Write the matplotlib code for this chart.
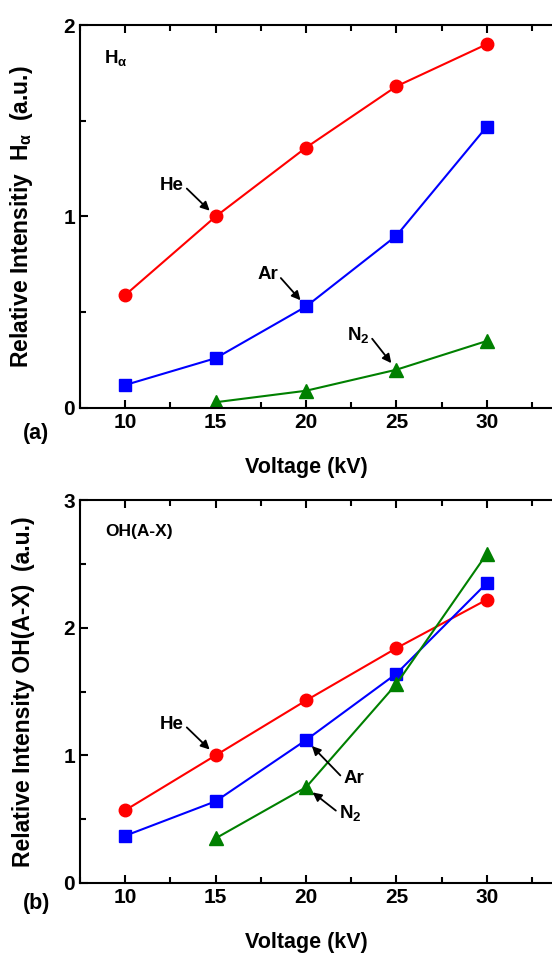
import matplotlib
matplotlib.use('Agg')
from matplotlib import pyplot as plt
from matplotlib.ticker import MultipleLocator

plt.rcParams['font.family'] = ['Liberation Sans', 'DejaVu Sans']
plt.rcParams['font.weight'] = 'bold'
plt.rcParams['mathtext.fontset'] = 'custom'
plt.rcParams['mathtext.bf'] = 'Liberation Sans:bold'
plt.rcParams['mathtext.rm'] = 'Liberation Sans:bold'
plt.rcParams['mathtext.it'] = 'Liberation Sans:bold'

voltage = [10, 15, 20, 25, 30]
voltage_n2 = [15, 20, 25, 30]

# (a) H alpha
ha_he = [0.59, 1.00, 1.36, 1.68, 1.90]
ha_ar = [0.12, 0.26, 0.53, 0.90, 1.47]
ha_n2 = [0.03, 0.09, 0.20, 0.35]

# (b) OH(A-X)
oh_he = [0.57, 1.00, 1.43, 1.84, 2.22]
oh_ar = [0.37, 0.64, 1.12, 1.64, 2.35]
oh_n2 = [0.35, 0.75, 1.56, 2.58]

fig = plt.figure(figsize=(5.52, 9.55), dpi=100)
ax1 = fig.add_axes([0.145, 0.5728, 0.855, 0.401])
ax2 = fig.add_axes([0.145, 0.0754, 0.855, 0.401])

arrow = dict(arrowstyle='-|>', color='black', lw=1.3, mutation_scale=13, shrinkA=0, shrinkB=6)


def draw_panel(ax, he, ar, n2, ymax):
    ax.plot(voltage, he, color='#ff0000', marker='o', ms=9, lw=1.5)
    ax.plot(voltage, ar, color='#0000ff', marker='s', ms=8.5, lw=1.5)
    ax.plot(voltage_n2, n2, color='#008000', marker='^', ms=9.5, lw=1.5)
    ax.set_xlim(7.5, 33.6)
    ax.set_ylim(0, ymax)
    ax.xaxis.set_major_locator(MultipleLocator(5))
    ax.xaxis.set_minor_locator(MultipleLocator(2.5))
    ax.yaxis.set_major_locator(MultipleLocator(1))
    ax.yaxis.set_minor_locator(MultipleLocator(0.5))
    ax.tick_params(which='both', direction='in', top=True, right=False, width=1.5, labelsize=15)
    ax.tick_params(which='major', length=6)
    ax.tick_params(which='minor', length=4)
    ax.spines['right'].set_visible(False)
    for s in ['left', 'bottom', 'top']:
        ax.spines[s].set_linewidth(1.5)
    ax.set_xlabel('Voltage (kV)', fontsize=15.5, fontweight='bold')
    ax.xaxis.set_label_coords(0.479, -0.128)
    for lab in ax.get_xticklabels() + ax.get_yticklabels():
        lab.set_fontweight('bold')


draw_panel(ax1, ha_he, ha_ar, ha_n2, 2)
ax1.set_ylabel(r'Relative Intensitiy  H$_{\mathrm{\alpha}}$  (a.u.)', fontsize=16.5, fontweight='bold')
ax1.yaxis.set_label_coords(-0.095, 0.5)
ax1.text(8.8, 1.83, r'H$_{\mathrm{\alpha}}$', fontsize=13.5, fontweight='bold', va='center')
ax1.annotate('He', xy=(15, 1.00), xytext=(13.25, 1.16), ha='right', va='center',
             fontsize=13.5, fontweight='bold', arrowprops=dict(arrow, relpos=(1, 0.5)))
ax1.annotate('Ar', xy=(20, 0.53), xytext=(18.45, 0.695), ha='right', va='center',
             fontsize=13.5, fontweight='bold', arrowprops=dict(arrow, relpos=(1, 0.5)))
ax1.annotate(r'N$_2$', xy=(25, 0.20), xytext=(23.5, 0.38), ha='right', va='center',
             fontsize=13.5, fontweight='bold', arrowprops=dict(arrow, relpos=(1, 0.5)))

draw_panel(ax2, oh_he, oh_ar, oh_n2, 3)
ax2.set_ylabel('Relative Intensity OH(A-X)  (a.u.)', fontsize=16.5, fontweight='bold')
ax2.yaxis.set_label_coords(-0.095, 0.5)
ax2.text(8.9, 2.75, 'OH(A-X)', fontsize=12.5, fontweight='bold', va='center')
ax2.annotate('He', xy=(15, 1.00), xytext=(13.25, 1.24), ha='right', va='center',
             fontsize=13.5, fontweight='bold', arrowprops=dict(arrow, relpos=(1, 0.5)))
ax2.annotate('Ar', xy=(20, 1.12), xytext=(22.05, 0.82), ha='left', va='center',
             fontsize=13.5, fontweight='bold', arrowprops=dict(arrow, relpos=(0, 0.5)))
ax2.annotate(r'N$_2$', xy=(20, 0.75), xytext=(21.8, 0.55), ha='left', va='center',
             fontsize=13.5, fontweight='bold', arrowprops=dict(arrow, relpos=(0, 0.5)))

fig.text(23 / 552, 1 - 433 / 955, '(a)', fontsize=15.5, fontweight='bold', va='center')
fig.text(23 / 552, 1 - 903 / 955, '(b)', fontsize=15.5, fontweight='bold', va='center')

fig.savefig('out.png', dpi=100)
